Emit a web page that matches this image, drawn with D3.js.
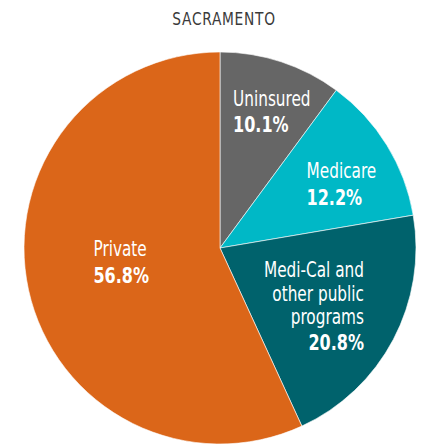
<!DOCTYPE html>
<html>
<head>
<meta charset="utf-8">
<script src="https://cdn.jsdelivr.net/npm/d3@7"></script>
<style>
    html, body { margin: 0; padding: 0; background: #fff; }
    svg text { font-family: "Liberation Sans Narrow", "DejaVu Sans Condensed", "Open Sans", sans-serif; font-stretch: condensed; }
</style>
</head>
<body>
<div id="chart"></div>
<script>
// данные графика
const title = 'SACRAMENTO'
const categories = ['Uninsured', 'Medicare', 'Medi-Cal and other public programs', 'Private']
const labelLines = [['Uninsured'], ['Medicare'], ['Medi-Cal and', 'other public', 'programs'], ['Private']]
const values = [10.1, 12.2, 20.8, 56.8]
const colors = ['#666666', '#00b8c6', '#00626c', '#db6619']

const width = 426
const height = 445
const cx = 220, cy = 248, radius = 196
const squeeze = 0.81 // сжимаем шрифт по ширине, как condensed

const svg = d3.select('#chart').append('svg')
    .attr('width', width)
    .attr('height', height)

// заголовок
svg.append('text')
    .attr('transform', `translate(224,25) scale(0.9,1)`)
    .attr('text-anchor', 'middle')
    .attr('fill', '#3a3a3a')
    .attr('font-size', 17)
    .attr('letter-spacing', 0.8)
    .text(title)

const pie = d3.pie().sort(null).value(d => d)
const arcs = pie(values)
const arc = d3.arc().innerRadius(0).outerRadius(radius)

const g = svg.append('g').attr('transform', `translate(${cx},${cy})`)

g.selectAll('path.slice')
    .data(arcs)
    .enter()
    .append('path')
    .attr('class', 'slice')
    .attr('d', arc)
    .attr('fill', (d, i) => colors[i])
    .attr('stroke', '#fff')
    .attr('stroke-width', 0.6)

// расположение подписей: радиус от центра и сдвиг угла от середины сектора
const labelLayout = [
    { r: 142.9, da: -12.96, anchor: 'start' },
    { r: 111.1, da: -7.18, anchor: 'start' },
    { r: 146.9, da: -16.33, anchor: 'end' },
    { r: 126.8, da: 8.67, anchor: 'start' }
]
const lineH = 23.3
const pctGap = 26.5
const fontSize = 21

arcs.forEach((a, i) => {
    const lay = labelLayout[i]
    const mid = (a.startAngle + a.endAngle) / 2 + lay.da * Math.PI / 180
    const px = Math.sin(mid) * lay.r
    const py = -Math.cos(mid) * lay.r
    const lines = labelLines[i]
    const t = g.append('text')
        .attr('transform', `translate(${px},${py}) scale(${squeeze},1)`)
        .attr('text-anchor', lay.anchor)
        .attr('fill', '#fff')
        .attr('font-size', fontSize)
    lines.forEach((l, k) => {
        t.append('tspan')
            .attr('x', 0)
            .attr('y', k * lineH)
            .text(l)
    })
    t.append('tspan')
        .attr('x', 0)
        .attr('y', (lines.length - 1) * lineH + pctGap)
        .attr('font-weight', 'bold')
        .attr('font-size', fontSize + 1)
        .text(values[i].toFixed(1) + '%')
})
</script>
</body>
</html>
